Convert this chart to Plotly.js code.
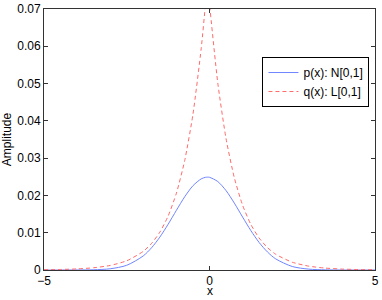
<!DOCTYPE html>
<html>
<head>
<meta charset="utf-8">
<script src="https://cdn.plot.ly/plotly-3.0.1.min.js"></script>
<style>html,body{margin:0;padding:0;background:#fff;}#chart{width:382px;height:300px;}</style>
</head>
<body>
<div id="chart"></div>
<script>
var xValues = [-5, -4.5, -4, -3.5, -3, -2.5, -2, -1.75, -1.5, -1.25, -1, -0.75, -0.5, -0.25, -0.125, -0.06, 0, 0.25, 0.5, 0.75, 1, 1.25, 1.5, 1.75, 2, 2.5, 3, 3.5, 4, 4.5, 5];
var pValues = [0.0000001, 0.0000013, 0.0000106, 0.000067, 0.000331, 0.001268, 0.003792, 0.00597, 0.00883, 0.01227, 0.01601, 0.01963, 0.0226, 0.02445, 0.02485, 0.0249, 0.02486, 0.02373, 0.02129, 0.01794, 0.0142, 0.01056, 0.007375, 0.00484, 0.002983, 0.00094, 0.000231, 0.000044, 0.0000066, 0.0000008, 0.0000001];
var qValues = [0.0000719, 0.000146, 0.000296, 0.0006, 0.001217, 0.002469, 0.005003, 0.007127, 0.01015, 0.01446, 0.02059, 0.02932, 0.04175, 0.05947, 0.07097, 0.0778, 0.07147, 0.05018, 0.03524, 0.02474, 0.01737, 0.0122, 0.008566, 0.006014, 0.004222, 0.002081, 0.001026, 0.000506, 0.000249, 0.000123, 0.0000607];
var seriesNames = ['p(x): N[0,1]', 'q(x): L[0,1]'];
var yTickVals = [0, 0.01, 0.02, 0.03, 0.04, 0.05, 0.06, 0.07];
var yTickText = ['0', '0.01', '0.02', '0.03', '0.04', '0.05', '0.06', '0.07'];
var xTickVals = [-5, 0, 5];
var xTickText = ['\u22125', '0', '5'];
var xTitle = 'x';
var yTitle = 'Amplitude';

var font = {family: 'Liberation Sans, Arial, Helvetica, sans-serif', size: 12, color: '#000'};
var traces = [
  {x: xValues, y: pValues, name: seriesNames[0], mode: 'lines', line: {color: '#7085ff', width: 1, shape: 'spline', smoothing: 0.8}},
  {x: xValues, y: qValues, name: seriesNames[1], mode: 'lines', line: {color: '#ff6a6a', width: 1, dash: '4px,3px', shape: 'spline', smoothing: 0.6}}
];
var axisCommon = {showgrid: false, zeroline: false, showline: true, linecolor: '#333', linewidth: 1, mirror: 'ticks', ticks: 'inside', ticklen: 4, tickcolor: '#333', tickfont: font};
var layout = {
  width: 382, height: 300,
  margin: {l: 44, r: 7, t: 9, b: 30},
  paper_bgcolor: '#fff', plot_bgcolor: '#fff',
  font: font,
  xaxis: Object.assign({}, axisCommon, {range: [-5, 5], tickmode: 'array', tickvals: xTickVals, ticktext: xTickText}),
  yaxis: Object.assign({}, axisCommon, {range: [0, 0.07], tickmode: 'array', tickvals: yTickVals, ticktext: yTickText, title: {text: yTitle, font: font, standoff: 3}}),
  annotations: [{text: xTitle, xref: 'paper', yref: 'paper', x: 0.5, y: -0.113, xanchor: 'center', yanchor: 'bottom', borderpad: 0, showarrow: false, font: {family: font.family, size: 12, color: '#000'}}],
  showlegend: true,
  legend: {x: 0.66, y: 0.816, xanchor: 'left', yanchor: 'top', bgcolor: '#fff', bordercolor: '#000', borderwidth: 1, font: font, tracegroupgap: 0, itemwidth: 30}
};
Plotly.newPlot('chart', traces, layout, {displayModeBar: false, staticPlot: true});
</script>
</body>
</html>
